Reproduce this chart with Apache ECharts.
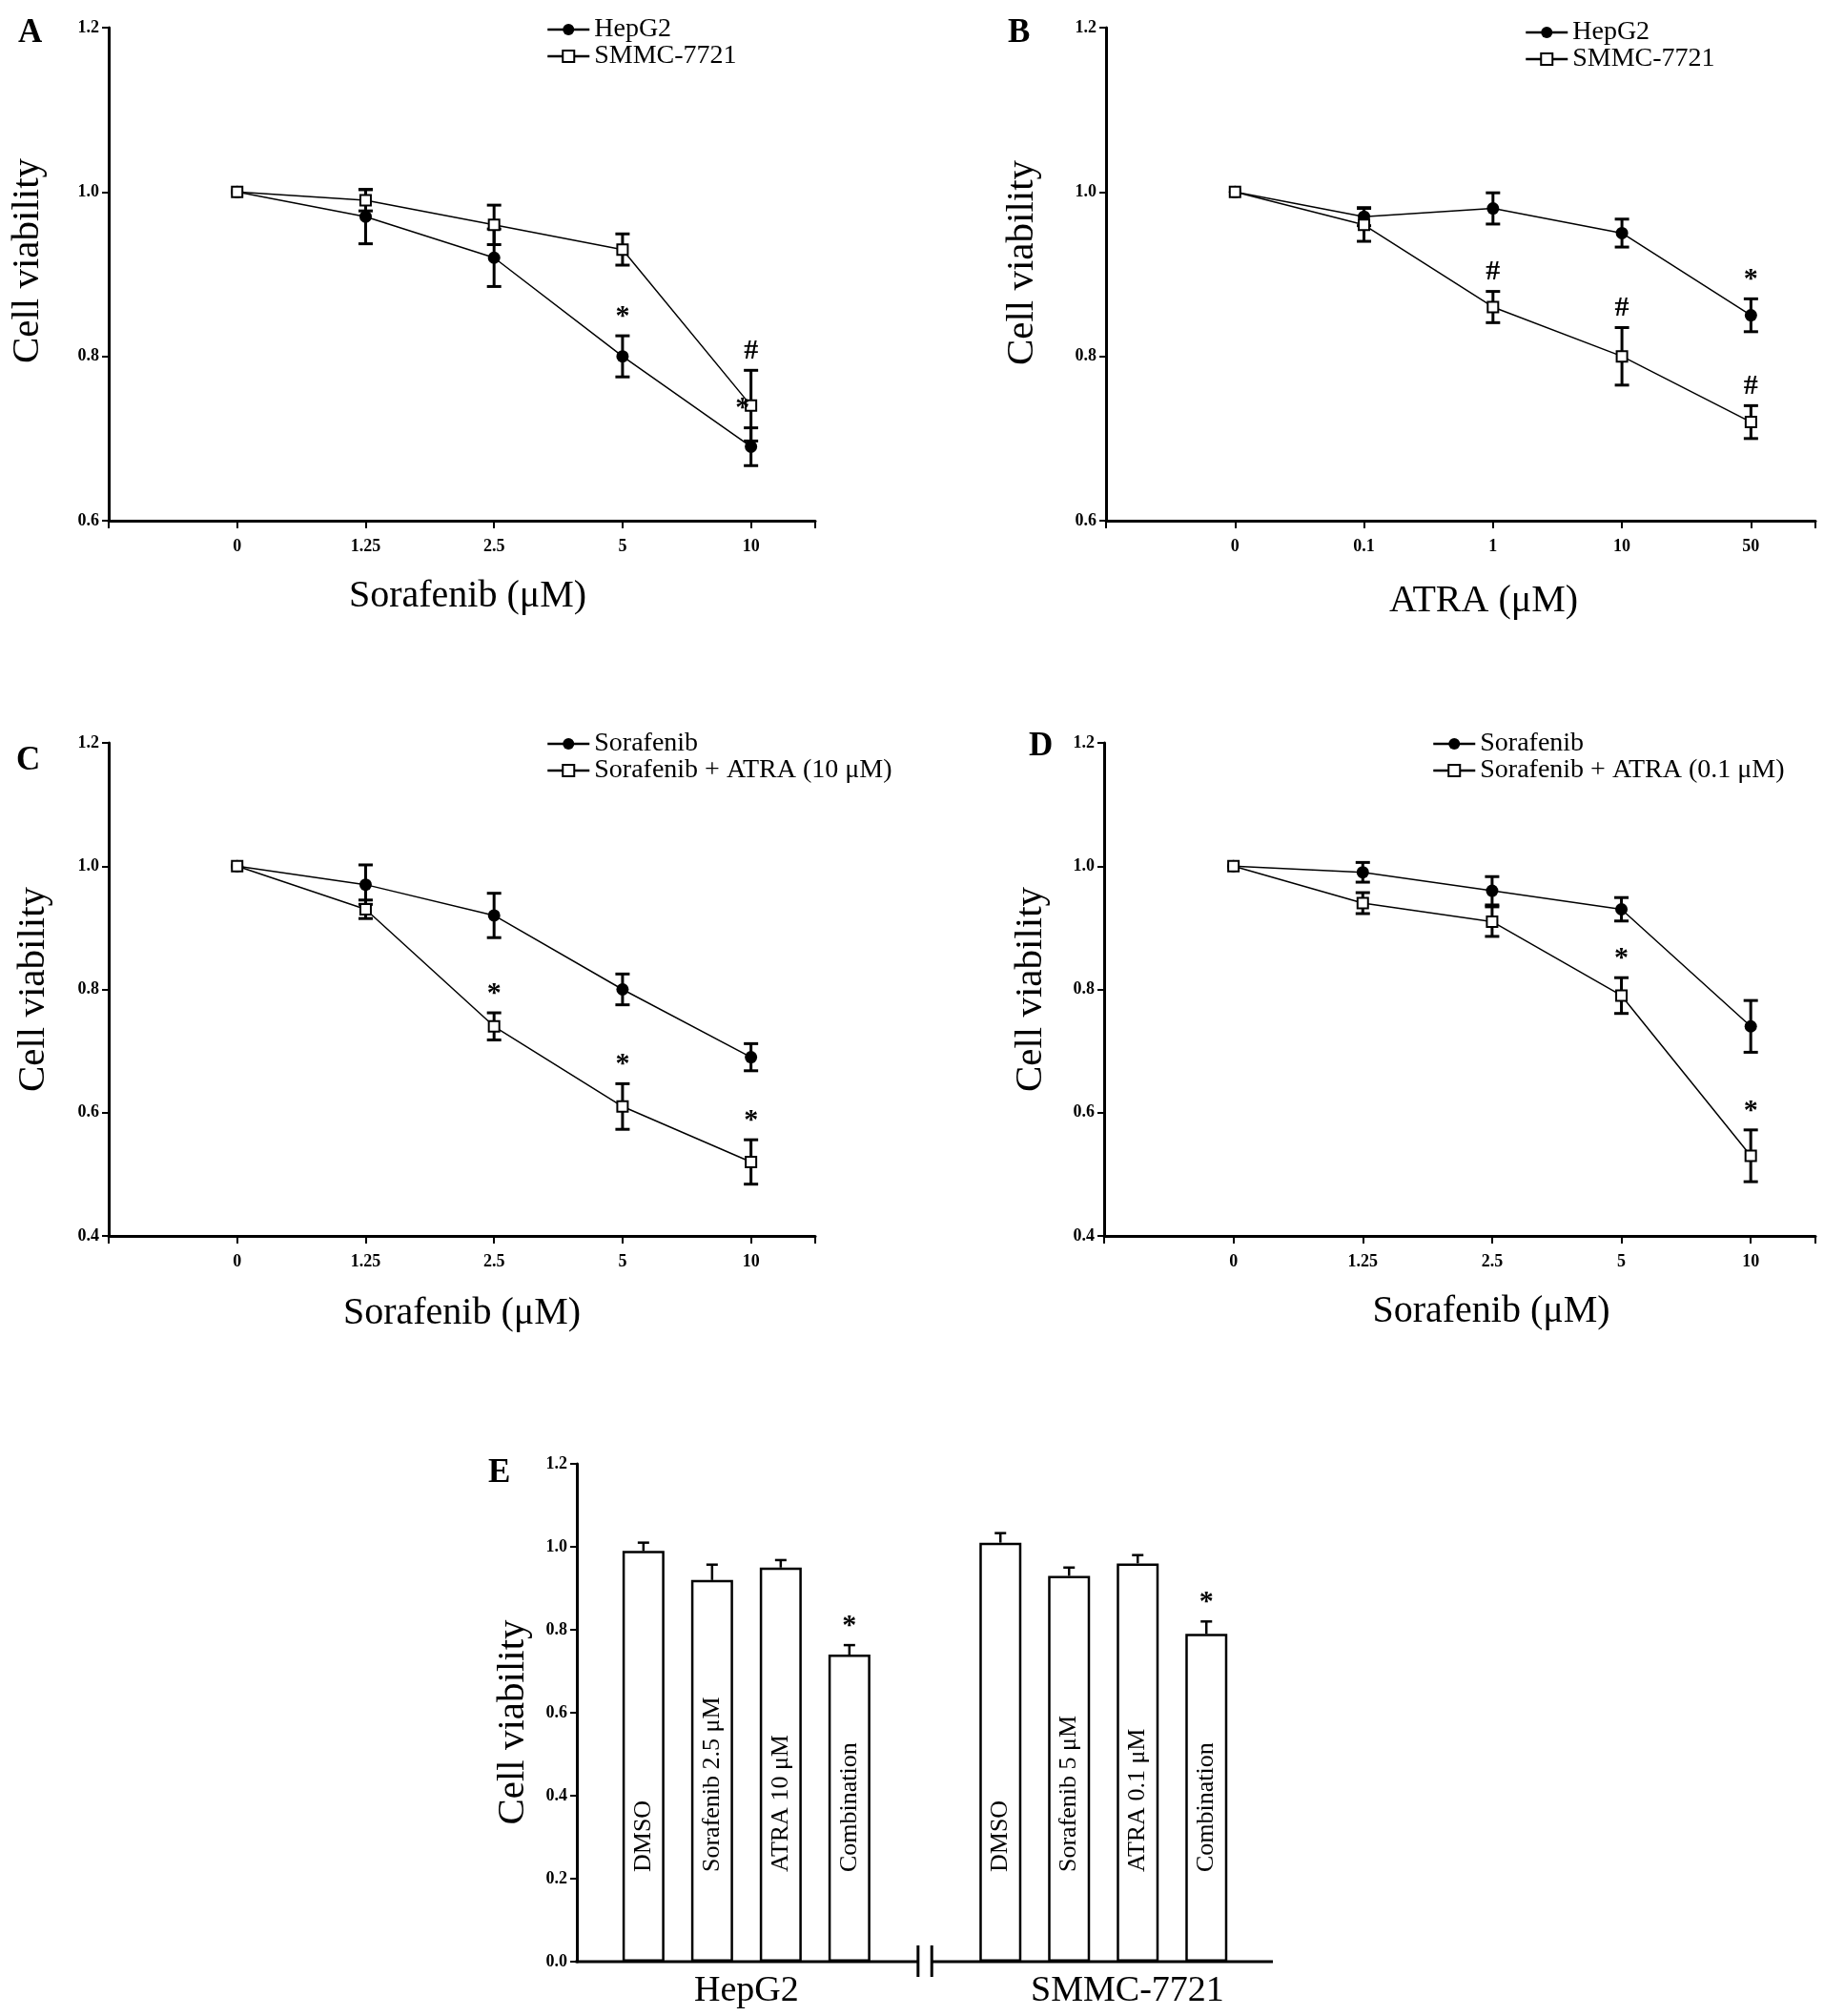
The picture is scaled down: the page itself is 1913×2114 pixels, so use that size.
<!DOCTYPE html>
<html>
<head>
<meta charset="UTF-8">
<title>Cell viability</title>
<script src="https://cdn.jsdelivr.net/npm/echarts@6/dist/echarts.min.js"></script>
<style>
  html, body { margin: 0; padding: 0; background: #fff; }
  #chart { width: 1913px; height: 2114px; }
</style>
</head>
<body>
<div id="chart"></div>
<script>
// dose labels on the x axes
var sorDoses = ['0', '1.25', '2.5', '5', '10'];
var atraDoses = ['0', '0.1', '1', '10', '50'];

// A - sorafenib, two cell lines
var aHep = [1.00, 0.97, 0.92, 0.80, 0.69];
var aHepErr = [0, 0.033, 0.035, 0.025, 0.023];
var aSmmc = [1.00, 0.99, 0.96, 0.93, 0.74];
var aSmmcErr = [0, 0.013, 0.024, 0.019, 0.043];
var aSig = [[0, 3, '*'], [0, 4, '*'], [1, 4, '#']];   // [series, point, mark]

// B - ATRA, two cell lines
var bHep = [1.00, 0.97, 0.98, 0.95, 0.85];
var bHepErr = [0, 0.011, 0.019, 0.017, 0.020];
var bSmmc = [1.00, 0.96, 0.86, 0.80, 0.72];
var bSmmcErr = [0, 0.020, 0.019, 0.035, 0.020];
var bSig = [[1, 2, '#'], [1, 3, '#'], [1, 4, '#'], [0, 4, '*']];

// C - HepG2, sorafenib +/- ATRA 10 uM
var cSor = [1.00, 0.97, 0.92, 0.80, 0.69];
var cSorErr = [0, 0.032, 0.036, 0.025, 0.022];
var cComb = [1.00, 0.93, 0.74, 0.61, 0.52];
var cCombErr = [0, 0.015, 0.022, 0.037, 0.036];
var cSig = [[1, 2, '*'], [1, 3, '*'], [1, 4, '*']];

// D - SMMC-7721, sorafenib +/- ATRA 0.1 uM
var dSor = [1.00, 0.99, 0.96, 0.93, 0.74];
var dSorErr = [0, 0.016, 0.023, 0.019, 0.042];
var dComb = [1.00, 0.94, 0.91, 0.79, 0.53];
var dCombErr = [0, 0.017, 0.024, 0.029, 0.042];
var dSig = [[1, 3, '*'], [1, 4, '*']];

// E - bar chart
var eGroups = ['HepG2', 'SMMC-7721'];
var eHepTreat = ['DMSO', 'Sorafenib 2.5 μM', 'ATRA 10 μM', 'Combination'];
var eSmmcTreat = ['DMSO', 'Sorafenib 5 μM', 'ATRA 0.1 μM', 'Combination'];
var eHep = [0.99, 0.92, 0.95, 0.74];
var eHepErr = [0.020, 0.037, 0.018, 0.023];
var eSmmc = [1.01, 0.93, 0.96, 0.79];
var eSmmcErr = [0.023, 0.020, 0.020, 0.030];
var eSig = [[0, 3, '*'], [1, 3, '*']];

var SERIF = '"Liberation Serif", "Times New Roman", serif';
var chart = echarts.init(document.getElementById('chart'));

var option = {
  backgroundColor: '#fff',
  animation: false,
  title: [], legend: [], grid: [], xAxis: [], yAxis: [], series: []
};

function errRender(capW, lw, topOnly) {
  return function (params, api) {
    var x = api.value(0);
    var lo = api.coord([x, api.value(1)]);
    var hi = api.coord([x, api.value(2)]);
    var st = { stroke: '#000', lineWidth: lw };
    var kids = [
      { type: 'line', shape: { x1: hi[0], y1: hi[1], x2: lo[0], y2: lo[1] }, style: st },
      { type: 'line', shape: { x1: hi[0] - capW / 2, y1: hi[1], x2: hi[0] + capW / 2, y2: hi[1] }, style: st }
    ];
    if (!topOnly) {
      kids.push({ type: 'line', shape: { x1: lo[0] - capW / 2, y1: lo[1], x2: lo[0] + capW / 2, y2: lo[1] }, style: st });
    }
    return { type: 'group', children: kids };
  };
}

function sigSeries(k, marks, pts, gap) {
  return {
    type: 'custom', xAxisIndex: k, yAxisIndex: k, z: 5, silent: true,
    data: pts,
    renderItem: function (params, api) {
      var p = api.coord([api.value(0), api.value(1)]);
      var m = marks[params.dataIndex];
      var dx = (m.length > 3) ? m[3] : 0;
      return {
        type: 'text', x: p[0] + dx, y: p[1] - gap,
        style: { text: m[2], fill: '#000', font: 'bold 30px ' + SERIF, textAlign: 'center', textVerticalAlign: 'bottom' }
      };
    }
  };
}

function yAxisCfg(k, yMin, gap, pad) {
  return {
    gridIndex: k, type: 'value', min: yMin, max: 1.2, interval: 0.2,
    name: 'Cell viability', nameLocation: 'middle', nameGap: gap,
    nameTextStyle: { fontFamily: SERIF, fontSize: 41, color: '#000', padding: pad },
    axisLine: { show: true, onZero: false, lineStyle: { color: '#000', width: 3 } },
    axisTick: { show: true, length: 7, lineStyle: { color: '#000', width: 2 } },
    splitLine: { show: false },
    axisLabel: {
      margin: 10, fontFamily: SERIF, fontSize: 18, fontWeight: 'bold', color: '#000',
      formatter: function (v) { return v.toFixed(1); }
    }
  };
}

function linePanel(k, p) {
  option.title.push({
    text: p.letter, left: p.letterPos[0], top: p.letterPos[1],
    textStyle: { fontFamily: SERIF, fontSize: 35, fontWeight: 'bold', color: '#000' }
  });
  option.grid.push({ left: p.box[0], top: p.box[1], width: p.box[2], height: p.box[3] });
  option.xAxis.push({
    gridIndex: k, type: 'value', min: -1, max: 4.5, interval: 1,
    name: p.xName, nameLocation: 'middle', nameGap: p.xGap,
    nameTextStyle: { fontFamily: SERIF, fontSize: 40, color: '#000', padding: p.xPad },
    axisLine: { onZero: false, lineStyle: { color: '#000', width: 3 } },
    axisTick: { length: 8, lineStyle: { color: '#000', width: 2 } },
    splitLine: { show: false },
    axisLabel: {
      margin: 18, fontFamily: SERIF, fontSize: 18, fontWeight: 'bold', color: '#000',
      formatter: function (v) { return p.cats[v] !== undefined ? p.cats[v] : ''; }
    }
  });
  option.yAxis.push(yAxisCfg(k, p.yMin, p.yGap, p.yPad));
  option.legend.push({
    orient: 'vertical', left: p.legendPos[0], top: p.legendPos[1],
    itemWidth: 44, itemHeight: 15, itemGap: 0,
    data: p.lines.map(function (s) { return s.name; }),
    lineStyle: { width: 2.5 },
    textStyle: { fontFamily: SERIF, fontSize: 28, color: '#000', lineHeight: 27 }
  });
  var sigPts = [];
  p.lines.forEach(function (s, si) {
    option.series.push({
      type: 'custom', xAxisIndex: k, yAxisIndex: k, z: 2, silent: true,
      encode: { x: 0, y: [1, 2] },
      renderItem: errRender(15, 3, false),
      data: s.vals.map(function (v, i) { return [i, v - s.errs[i], v + s.errs[i]]; })
        .filter(function (d, i) { return s.errs[i] > 0; })
    });
    option.series.push({
      type: 'line', name: s.name, xAxisIndex: k, yAxisIndex: k, z: 3,
      data: s.vals.map(function (v, i) { return [i, v]; }),
      symbol: s.filled ? 'circle' : 'rect',
      symbolSize: s.filled ? 13 : 11,
      lineStyle: { color: '#000', width: 1.5 },
      itemStyle: s.filled ? { color: '#000' } : { color: '#fff', borderColor: '#000', borderWidth: 2 }
    });
  });
  p.sig.forEach(function (m) {
    var s = p.lines[m[0]];
    sigPts.push([m[1], s.vals[m[1]] + s.errs[m[1]]]);
  });
  option.series.push(sigSeries(k, p.sig, sigPts, 5));
}

linePanel(0, {
  letter: 'A', letterPos: [14, 12], box: [114, 29, 741, 517], cats: sorDoses, yMin: 0.6,
  xName: 'Sorafenib (μM)', xGap: 59, xPad: [0, 0, 0, 12], yGap: 64, yPad: [0, 0, 0, 28],
  legendPos: [568, 12],
  lines: [
    { name: 'HepG2', vals: aHep, errs: aHepErr, filled: true },
    { name: 'SMMC-7721', vals: aSmmc, errs: aSmmcErr, filled: false }
  ],
  sig: aSig.map(function (m) { return (m[0] === 0 && m[1] === 4) ? m.concat([-9]) : m; })
});
linePanel(1, {
  letter: 'B', letterPos: [1052, 12], box: [1160, 29, 744, 517], cats: atraDoses, yMin: 0.6,
  xName: 'ATRA (μM)', xGap: 64, xPad: [0, 0, 0, 48], yGap: 67, yPad: [0, 0, 0, 24],
  legendPos: [1594, 15],
  lines: [
    { name: 'HepG2', vals: bHep, errs: bHepErr, filled: true },
    { name: 'SMMC-7721', vals: bSmmc, errs: bSmmcErr, filled: false }
  ],
  sig: bSig
});
linePanel(2, {
  letter: 'C', letterPos: [12, 775], box: [114, 779, 741, 517], cats: sorDoses, yMin: 0.4,
  xName: 'Sorafenib (μM)', xGap: 61, xPad: 0, yGap: 58, yPad: 0,
  legendPos: [568, 761],
  lines: [
    { name: 'Sorafenib', vals: cSor, errs: cSorErr, filled: true },
    { name: 'Sorafenib + ATRA (10 μM)', vals: cComb, errs: cCombErr, filled: false }
  ],
  sig: cSig
});
linePanel(3, {
  letter: 'D', letterPos: [1074, 760], box: [1158, 779, 746, 517], cats: sorDoses, yMin: 0.4,
  xName: 'Sorafenib (μM)', xGap: 59, xPad: [0, 0, 0, 66], yGap: 56, yPad: 0,
  legendPos: [1497, 761],
  lines: [
    { name: 'Sorafenib', vals: dSor, errs: dSorErr, filled: true },
    { name: 'Sorafenib + ATRA (0.1 μM)', vals: dComb, errs: dCombErr, filled: false }
  ],
  sig: dSig
});

// ---- E: grouped bars with an axis break between the cell lines ----
var slot = 72;                       // px per bar slot
var groupStart = [0.97, 6.17];       // first bar of each group, in slots
var breakAt = [4.97, 5.17];
var xMaxE = 730 / slot;
var eSets = [
  { vals: eHep, errs: eHepErr, treat: eHepTreat },
  { vals: eSmmc, errs: eSmmcErr, treat: eSmmcTreat }
];
var barData = [], barText = [], errData = [], eSigPts = [];
eSets.forEach(function (g, gi) {
  g.vals.forEach(function (v, i) {
    var x = groupStart[gi] + i;
    barData.push([x, v]);
    barText.push(g.treat[i]);
    errData.push([x, v, v + g.errs[i]]);
  });
});
eSig.forEach(function (m) {
  var g = eSets[m[0]];
  eSigPts.push([groupStart[m[0]] + m[1], g.vals[m[1]] + g.errs[m[1]]]);
});

option.title.push({
  text: 'E', left: 507, top: 1522,
  textStyle: { fontFamily: SERIF, fontSize: 35, fontWeight: 'bold', color: '#000' }
});
option.grid.push({ left: 605, top: 1535, width: 730, height: 522 });
option.xAxis.push({
  gridIndex: 4, type: 'value', min: 0, max: xMaxE,
  axisLine: { show: false }, axisTick: { show: false }, axisLabel: { show: false }, splitLine: { show: false }
});
option.yAxis.push(yAxisCfg(4, 0, 46, [0, 20, 0, 0]));
option.series.push({
  type: 'bar', xAxisIndex: 4, yAxisIndex: 4, z: 2, barWidth: 44,
  data: barData,
  itemStyle: { color: '#fff', borderColor: '#000', borderWidth: 2.5 },
  label: {
    show: true, position: 'insideBottom', rotate: 90, align: 'left', verticalAlign: 'middle',
    distance: 94, fontFamily: SERIF, fontSize: 26, color: '#000',
    formatter: function (p) { return barText[p.dataIndex]; }
  }
});
option.series.push({
  type: 'custom', xAxisIndex: 4, yAxisIndex: 4, z: 1, silent: true,
  encode: { x: 0, y: [1, 2] },
  renderItem: errRender(12, 2.5, true),
  data: errData
});
option.series.push(sigSeries(4, eSig, eSigPts, 5));
// broken x axis and the cell-line labels under each group
option.series.push({
  type: 'custom', xAxisIndex: 4, yAxisIndex: 4, z: 4, silent: true,
  data: [[0, 0]],
  renderItem: function (params, api) {
    var st = { stroke: '#000', lineWidth: 3 };
    var a = api.coord([0, 0]), b = api.coord([breakAt[0], 0]);
    var c = api.coord([breakAt[1], 0]), d = api.coord([xMaxE, 0]);
    var kids = [
      { type: 'line', shape: { x1: a[0] - 1.5, y1: a[1], x2: b[0], y2: b[1] }, style: st },
      { type: 'line', shape: { x1: c[0], y1: c[1], x2: d[0], y2: d[1] }, style: st },
      { type: 'line', shape: { x1: b[0], y1: b[1] - 17, x2: b[0], y2: b[1] + 16 }, style: st },
      { type: 'line', shape: { x1: c[0], y1: c[1] - 17, x2: c[0], y2: c[1] + 16 }, style: st }
    ];
    eGroups.forEach(function (name, gi) {
      var cx = groupStart[gi] + 1.5 + (gi === 1 ? 0.35 : 0);
      var p = api.coord([cx, 0]);
      kids.push({
        type: 'text', x: p[0], y: p[1] + 31,
        style: { text: name, fill: '#000', font: '38px ' + SERIF, textAlign: 'center', textVerticalAlign: 'middle' }
      });
    });
    return { type: 'group', children: kids };
  }
});

chart.setOption(option);
</script>
</body>
</html>
